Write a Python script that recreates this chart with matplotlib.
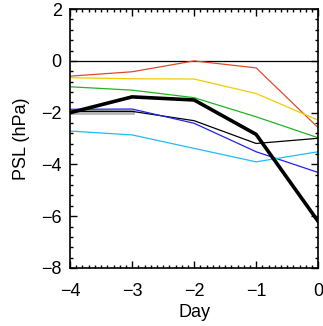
import numpy as np
import matplotlib
matplotlib.use("Agg")
import matplotlib.pyplot as plt
from matplotlib.ticker import MultipleLocator

days = [-4, -3, -2, -1, 0]

red = [-0.59, -0.42, 0.0, -0.27, -2.58]
yellow = [-0.65, -0.69, -0.70, -1.26, -2.29]
green = [-1.0, -1.13, -1.42, -2.16, -2.97]
blue = [-1.87, -1.86, -2.41, -3.51, -4.31]
cyan = [-2.71, -2.86, -3.38, -3.9, -3.51]
thin_black = [-1.95, -1.95, -2.31, -3.19, -2.99]
gray_days = [-4, -3]
gray = [-1.98, -1.98]
mean_black = [-2.0, -1.39, -1.51, -2.84, -6.2]

plt.rcParams['font.family'] = ['Liberation Sans', 'DejaVu Sans']

fig = plt.figure(figsize=(3.23, 3.26), dpi=100)
ax = fig.add_axes([0.217, 0.178, 0.768, 0.794])

ax.axhline(0, color="black", lw=0.9)
ax.plot(gray_days, gray, color="#b4b4b4", lw=3.4)
ax.plot(days, red, color="#e04a2a", lw=0.9)
ax.plot(days, yellow, color="#f2cc00", lw=0.9)
ax.plot(days, green, color="#22b422", lw=0.9)
ax.plot(days, thin_black, color="black", lw=0.9)
ax.plot(days, blue, color="#2222ee", lw=0.9)
ax.plot(days, cyan, color="#22bbf5", lw=0.9)
ax.plot(days, mean_black, color="black", lw=2.6)

ax.set_xlim(-4, 0)
ax.set_ylim(-8, 2)
ax.xaxis.set_major_locator(MultipleLocator(1))
ax.xaxis.set_minor_locator(MultipleLocator(0.1))
ax.yaxis.set_major_locator(MultipleLocator(2))
ax.yaxis.set_minor_locator(MultipleLocator(0.4))
ax.tick_params(which="both", direction="in", top=True, right=True, labelsize=13, width=1)
ax.tick_params(which="major", length=5)
ax.tick_params(which="minor", length=2.5)
ax.tick_params(axis="x", pad=11)
ax.tick_params(axis="y", pad=6)
for s in ax.spines.values():
    s.set_linewidth(1.2)

ax.set_xlabel("Day", fontsize=13, labelpad=3)
ax.set_ylabel("PSL (hPa)", fontsize=13, labelpad=8)

fig.savefig("out.png", dpi=100)
